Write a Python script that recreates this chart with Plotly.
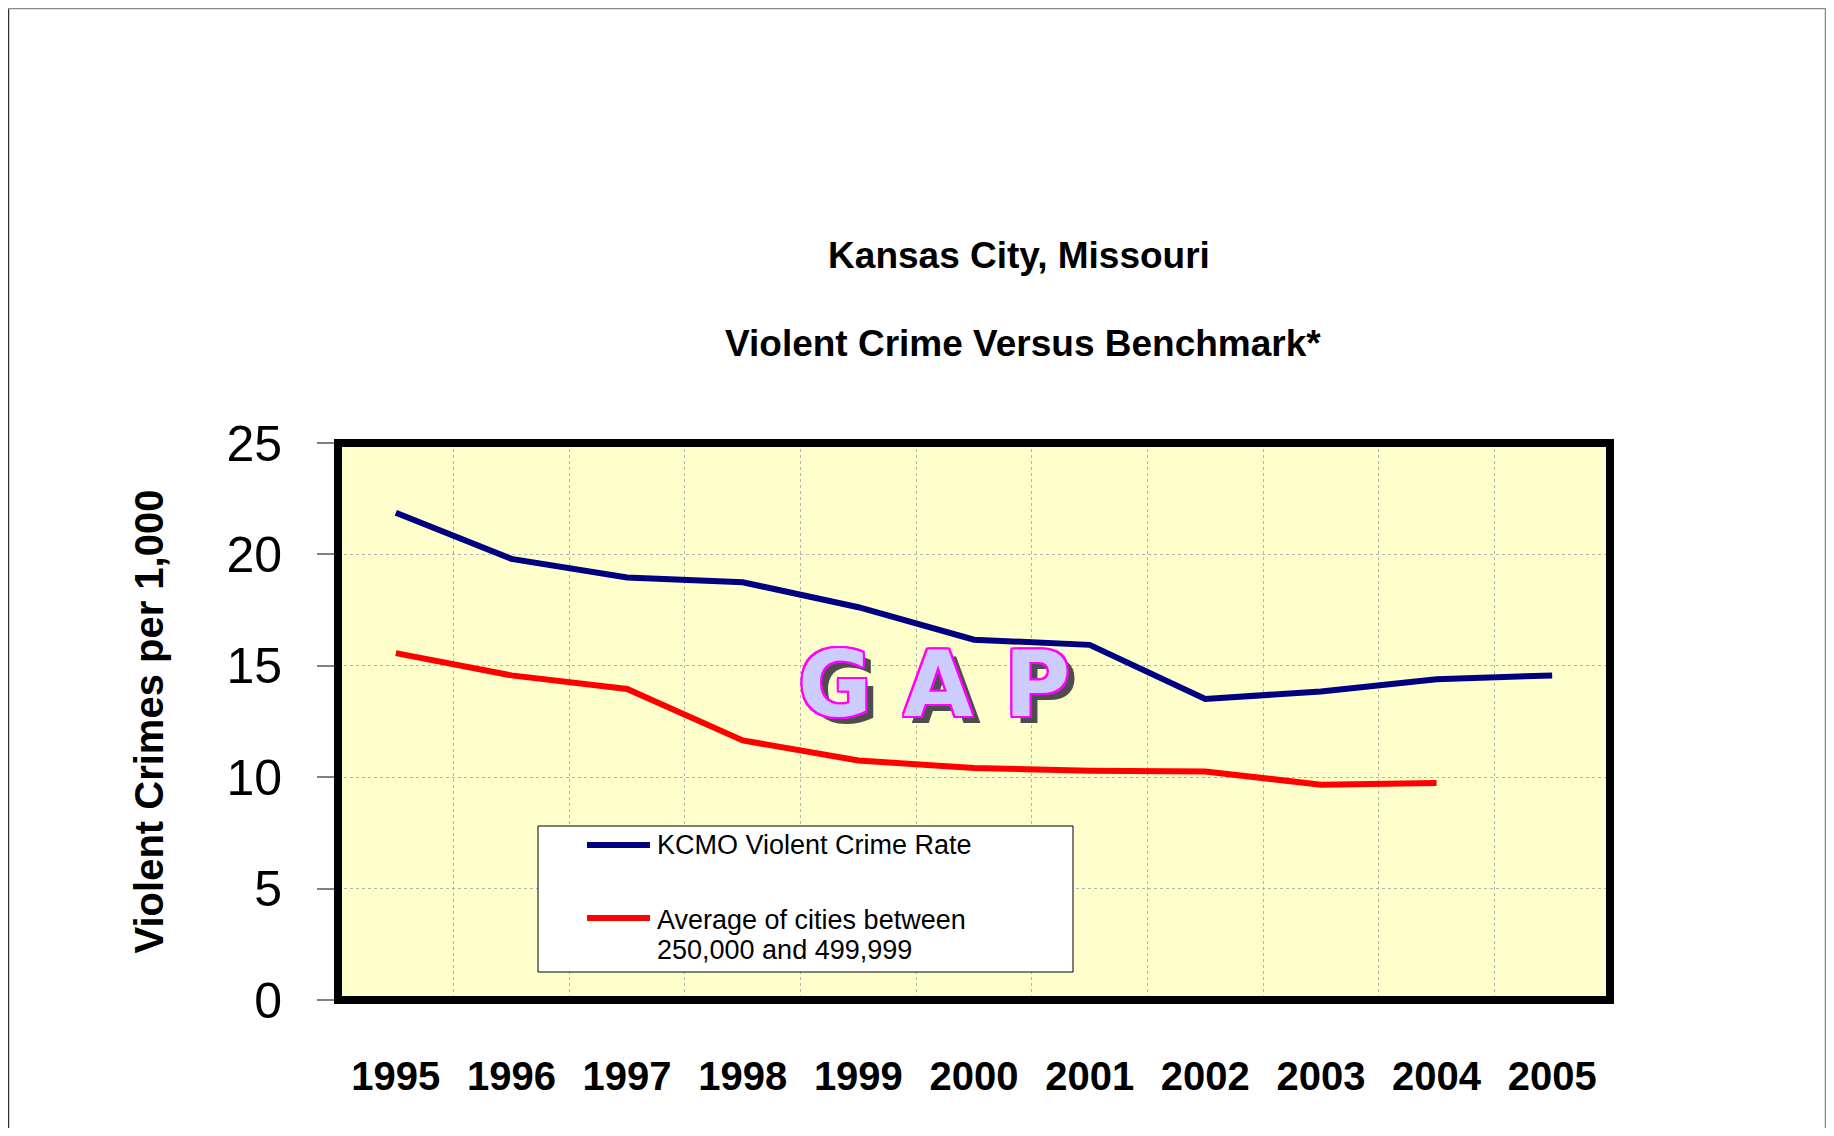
import plotly.graph_objects as go

# ---------------- data ----------------
years = [1995, 1996, 1997, 1998, 1999, 2000, 2001, 2002, 2003, 2004, 2005]
kcmo_rate = [21.87, 19.80, 18.96, 18.75, 17.63, 16.17, 15.94, 13.51, 13.85, 14.40, 14.57]
benchmark_avg = [15.57, 14.57, 13.96, 11.65, 10.75, 10.41, 10.29, 10.26, 9.66, 9.74, None]
y_ticks = [0, 5, 10, 15, 20, 25]
x_tick_labels = [str(y) for y in years]
title_lines = ["Kansas City, Missouri", "Violent Crime Versus Benchmark*"]
y_title = "Violent Crimes per 1,000"
series_names = ["KCMO Violent Crime Rate", "Average of cities between 250,000 and 499,999"]
legend_lines = ["KCMO Violent Crime Rate", "Average of cities between", "250,000 and 499,999"]
gap_label = "G A P"

# ---------------- layout geometry ----------------
W, H = 1818, 1120          # figure size (page body has 8px margin)
OFF = 8
L, R, T, B = 330, 216, 435, 128
PW = W - L - R
PH = H - T - B


def px(xp):
    """page x -> paper x"""
    return (xp - OFF - L) / PW


def py(yp):
    """page y -> paper y"""
    return (H - B - (yp - OFF)) / PH


FONT = "Liberation Sans, Arial, sans-serif"
BLUE = "#000080"
RED = "#FF0000"

fig = go.Figure()
fig.add_trace(go.Scatter(x=years, y=kcmo_rate, mode="lines", name=series_names[0],
                         line=dict(color=BLUE, width=6), showlegend=False))
fig.add_trace(go.Scatter(x=years, y=benchmark_avg, mode="lines", name=series_names[1],
                         line=dict(color=RED, width=6), showlegend=False))

shapes = []
# plot frame
shapes.append(dict(type="rect", xref="paper", yref="paper", x0=0, x1=1, y0=0, y1=1,
                   line=dict(color="black", width=8), layer="above"))
# page border (left, top, right)
shapes.append(dict(type="line", xref="paper", yref="paper", x0=px(8.5), x1=px(8.5),
                   y0=py(8.5), y1=py(1136), line=dict(color="#333333", width=1.5)))
shapes.append(dict(type="line", xref="paper", yref="paper", x0=px(8.5), x1=px(1825.5),
                   y0=py(8.5), y1=py(8.5), line=dict(color="#888888", width=1.5)))
shapes.append(dict(type="line", xref="paper", yref="paper", x0=px(1825.5), x1=px(1825.5),
                   y0=py(8.5), y1=py(1136), line=dict(color="#888888", width=1.5)))
# custom legend box
shapes.append(dict(type="rect", xref="paper", yref="paper", x0=px(538), x1=px(1073),
                   y0=py(972), y1=py(826), fillcolor="white",
                   line=dict(color="black", width=1), layer="above"))
shapes.append(dict(type="line", xref="paper", yref="paper", x0=px(587), x1=px(650),
                   y0=py(845), y1=py(845), line=dict(color=BLUE, width=6), layer="above"))
shapes.append(dict(type="line", xref="paper", yref="paper", x0=px(587), x1=px(650),
                   y0=py(918), y1=py(918), line=dict(color=RED, width=6), layer="above"))

legend_font = dict(family=FONT, size=27, color="black")
annotations = [
    dict(text=title_lines[1], xref="paper", yref="paper", x=px(1023), y=py(343),
         xanchor="center", yanchor="middle", showarrow=False,
         font=dict(family=FONT, size=37, color="black", weight="bold")),
    dict(text=legend_lines[0], xref="paper", yref="paper", x=px(655), y=py(845),
         xanchor="left", yanchor="middle", showarrow=False, align="left", font=legend_font),
    dict(text=legend_lines[1], xref="paper", yref="paper", x=px(655), y=py(920),
         xanchor="left", yanchor="middle", showarrow=False, align="left", font=legend_font),
    dict(text=legend_lines[2], xref="paper", yref="paper", x=px(655), y=py(950),
         xanchor="left", yanchor="middle", showarrow=False, align="left", font=legend_font),
    dict(text=gap_label, xref="paper", yref="paper", x=px(934), y=py(684),
         xanchor="center", yanchor="middle", showarrow=False,
         font=dict(family="DejaVu Sans, sans-serif", size=90, color="#CCCCFF", weight="bold",
                   shadow=("2px 0px 0px #FF00FF, -2px 0px 0px #FF00FF, 0px 2px 0px #FF00FF, "
                           "0px -2px 0px #FF00FF, 2px 2px 0px #FF00FF, -2px -2px 0px #FF00FF, "
                           "2px -2px 0px #FF00FF, -2px 2px 0px #FF00FF, 8px 7px 0px #4D4D4D"))),
]

fig.update_layout(
    width=W, height=H,
    margin=dict(l=L, r=R, t=T, b=B, pad=0),
    paper_bgcolor="white",
    plot_bgcolor="#FFFFCC",
    title=dict(text=title_lines[0],
               x=px(1019), xref="paper", xanchor="center",
               y=1 - (255 - OFF) / H, yref="container", yanchor="middle",
               font=dict(family=FONT, size=37, color="black", weight="bold")),
    xaxis=dict(range=[1994.5, 2005.5], tickmode="array", tickvals=years, ticktext=x_tick_labels,
               showgrid=False, zeroline=False, showline=False, ticks="",
               ticklabelstandoff=49,
               tickfont=dict(family=FONT, size=40, color="black", weight="bold"),
               minor=dict(tick0=1994.5, dtick=1, showgrid=True, gridcolor="#B4B4B4",
                          griddash="dot", gridwidth=1, ticks="")),
    yaxis=dict(range=[0, 25], tickmode="array", tickvals=y_ticks,
               ticks="outside", ticklen=20, tickcolor="#808080", tickwidth=1.5,
               showgrid=True, gridcolor="#B4B4B4", griddash="dot", gridwidth=1,
               zeroline=False, showline=False, ticklabelstandoff=25,
               tickfont=dict(family=FONT, size=50, color="black"),
               title=dict(text=y_title, standoff=50,
                          font=dict(family=FONT, size=40, color="black", weight="bold"))),
    yaxis2=dict(range=[0, 25], overlaying="y", side="left", anchor="x", tickmode="array",
                tickvals=y_ticks, ticks="inside", ticklen=18, tickcolor="#808080", tickwidth=1.5,
                showticklabels=False, showgrid=False, zeroline=False, showline=False),
    shapes=shapes,
    annotations=annotations,
)

fig.write_html("out.html")
